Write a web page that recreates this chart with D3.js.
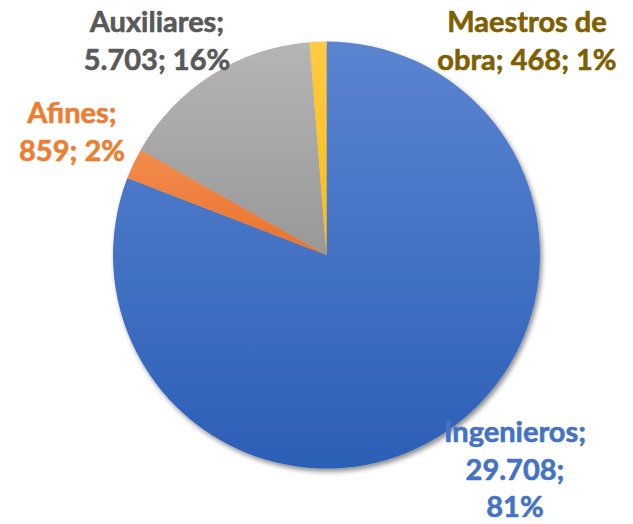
<!DOCTYPE html>
<html>
<head>
<meta charset="utf-8">
<script src="https://cdn.jsdelivr.net/npm/d3@7"></script>
<style>
  html, body { margin: 0; padding: 0; background: #fff; }
  svg { display: block; }
  text { font-family: Lato, "Open Sans", sans-serif; font-weight: bold; }
</style>
</head>
<body>
<svg id="chart" width="633" height="524"></svg>
<script>
// ---- data ----
const categories = ["Ingenieros", "Afines", "Auxiliares", "Maestros de obra"];
const values = [29708, 859, 5703, 468];
const valueLabels = ["29.708", "859", "5.703", "468"];
const percentLabels = ["81%", "2%", "16%", "1%"];

// ---- styling / layout (kept apart from data) ----
const fillTop =    ["#5B84D0", "#F38C4E", "#B5B5B5", "#FFCA45"];
const fillBottom = ["#2C5FB7", "#E8722B", "#989898", "#FBBD10"];
const textColors = ["#4472C4", "#ED7D31", "#595959", "#7F6000"];
const labelLines = [
  ["Ingenieros;", "29.708;", "81%"],
  ["Afines;", "859; 2%"],
  ["Auxiliares;", "5.703; 16%"],
  ["Maestros de", "obra; 468; 1%"]
];
const labelAnchor = [[515, 442], [72, 123], [157, 32], [527, 32]]; // x center, first baseline
const lineGap = 37.5;

const W = 633, H = 524;
const cx = 326.5, cy = 255, R = 213.5;

const svg = d3.select("#chart");
const defs = svg.append("defs");

const filt = defs.append("filter").attr("id", "shadow")
  .attr("x", "-10%").attr("y", "-10%").attr("width", "120%").attr("height", "120%");
filt.append("feDropShadow").attr("dx", 2).attr("dy", 3).attr("stdDeviation", 2.5)
  .attr("flood-color", "#000").attr("flood-opacity", 0.45);

categories.forEach((c, i) => {
  const g = defs.append("linearGradient").attr("id", "grad" + i)
    .attr("x1", 0).attr("y1", 0).attr("x2", 0).attr("y2", 1);
  g.append("stop").attr("offset", "0%").attr("stop-color", fillTop[i]);
  g.append("stop").attr("offset", "100%").attr("stop-color", fillBottom[i]);
});

const pie = d3.pie().sort(null).value(d => d)(values);
const arc = d3.arc().innerRadius(0).outerRadius(R);

const g = svg.append("g").attr("transform", `translate(${cx},${cy})`);
const slices = g.append("g").attr("filter", "url(#shadow)");
slices.selectAll("path").data(pie).enter().append("path")
  .attr("d", arc)
  .attr("fill", (d, i) => `url(#grad${i})`)
  .attr("stroke", "none");

const labels = svg.append("g");
labelLines.forEach((lines, i) => {
  const t = labels.append("text")
    .attr("text-anchor", "middle")
    .attr("fill", textColors[i])
    .attr("stroke", textColors[i])
    .attr("stroke-width", 0.6)
    .attr("stroke-linejoin", "round")
    .style("font-size", "29px");
  lines.forEach((ln, j) => {
    t.append("tspan").attr("x", labelAnchor[i][0]).attr("y", labelAnchor[i][1] + j * lineGap).text(ln);
  });
});
</script>
</body>
</html>
